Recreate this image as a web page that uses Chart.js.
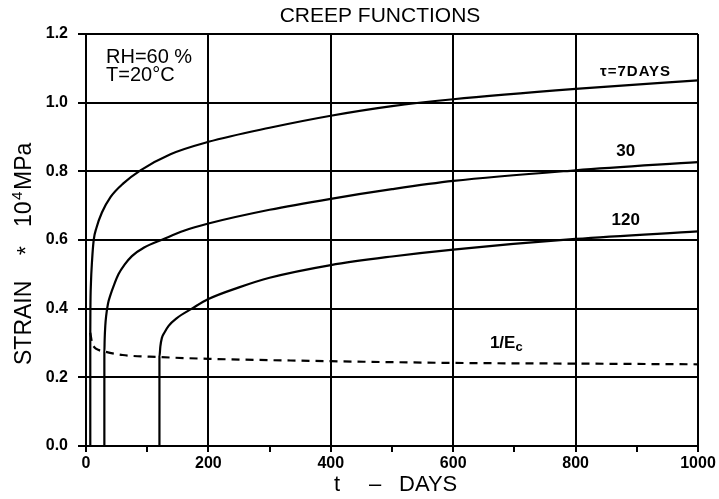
<!DOCTYPE html>
<html>
<head>
<meta charset="utf-8">
<title>Creep functions</title>
<script src="https://cdn.jsdelivr.net/npm/chart.js@4.4.1/dist/chart.umd.min.js"></script>
<style>
  html, body { margin: 0; padding: 0; background: #fff; }
  #chart { display: block; }
</style>
</head>
<body>
<canvas id="chart" width="719" height="499"></canvas>
<script>
"use strict";

// values: t in days, strain * 10^4 MPa
const days7 = [7, 7, 7.2, 8, 9.9, 12.6, 17, 26, 40, 61, 89, 138, 200, 300, 400, 500, 600, 800, 1000];
const strain7 = [0, 0.33, 0.40, 0.47, 0.54, 0.60, 0.635, 0.68, 0.725, 0.765, 0.803, 0.85, 0.886, 0.927, 0.962, 0.99, 1.01, 1.04, 1.065];

const days30 = [30, 30, 30.5, 31.5, 33, 36, 40, 46, 53, 63, 75, 95, 127, 160, 200, 300, 400, 500, 600, 800, 1000];
const strain30 = [0, 0.272, 0.31, 0.35, 0.38, 0.415, 0.44, 0.47, 0.50, 0.528, 0.553, 0.578, 0.603, 0.627, 0.648, 0.688, 0.72, 0.748, 0.772, 0.803, 0.827];

const days120 = [120, 120, 121.5, 124, 128, 135, 148, 173, 200, 250, 300, 400, 500, 600, 800, 1000];
const strain120 = [0, 0.26, 0.29, 0.315, 0.33, 0.35, 0.372, 0.40, 0.428, 0.462, 0.49, 0.527, 0.552, 0.572, 0.603, 0.625];

const daysEc = [7, 10, 14, 20, 30, 60, 120, 200, 400, 600, 800, 1000];
const strainEc = [0.33, 0.30, 0.287, 0.28, 0.275, 0.265, 0.259, 0.254, 0.247, 0.242, 0.24, 0.238];

const xTicks = [0, 200, 400, 600, 800, 1000];
const yTicks = [0, 0.2, 0.4, 0.6, 0.8, 1.0, 1.2];

const FONT = '"Liberation Sans", Arial, Helvetica, sans-serif';

function points(xs, ys) {
  return xs.map((x, i) => ({ x: x, y: ys[i] }));
}

function curve(xs, ys, dashed) {
  return {
    data: points(xs, ys),
    borderColor: "#000",
    borderWidth: 2.2,
    borderDash: dashed ? [8, 6] : [],
    pointRadius: 0,
    fill: false,
    cubicInterpolationMode: "monotone"
  };
}

// titles and curve labels
const annotate = {
  id: "annotate",
  afterDraw(chart) {
    const ctx = chart.ctx;
    const x = chart.scales.x;
    const y = chart.scales.y;
    ctx.save();
    ctx.fillStyle = "#000";
    ctx.textBaseline = "middle";

    ctx.textAlign = "center";
    ctx.font = "21px " + FONT;
    ctx.fillText("CREEP FUNCTIONS", 380, 16);

    ctx.textAlign = "left";
    ctx.font = "20px " + FONT;
    ctx.fillText("RH=60 %", 106, 57);
    ctx.fillText("T=20\u00B0C", 106, 75);

    ctx.textAlign = "center";
    ctx.font = "bold 15px " + FONT;
    ctx.letterSpacing = "1px";
    ctx.fillText("\u03C4=7DAYS", x.getPixelForValue(898), y.getPixelForValue(1.09));
    ctx.letterSpacing = "0px";
    ctx.font = "bold 17px " + FONT;
    ctx.fillText("30", x.getPixelForValue(882), y.getPixelForValue(0.857));
    ctx.fillText("120", x.getPixelForValue(882), y.getPixelForValue(0.657));

    // 1/Ec with subscript
    ctx.textAlign = "left";
    ctx.font = "bold 17px " + FONT;
    const ex = x.getPixelForValue(660);
    const ey = y.getPixelForValue(0.3);
    ctx.fillText("1/E", ex, ey);
    const w = ctx.measureText("1/E").width;
    ctx.font = "bold 13px " + FONT;
    ctx.fillText("c", ex + w, ey + 4);

    // x axis title
    ctx.font = "22px " + FONT;
    ctx.textAlign = "center";
    ctx.fillText("t", 337, 485);
    ctx.fillText("\u2013", 375, 485);
    ctx.textAlign = "left";
    ctx.fillText("DAYS", 399, 485);

    // y axis title, rotated
    ctx.translate(25, 365);
    ctx.rotate(-Math.PI / 2);
    ctx.font = "23px " + FONT;
    ctx.fillText("STRAIN", 0, 0);
    ctx.fillText("*", 110, 3);
    ctx.fillText("10", 138, 0);
    ctx.font = "15px " + FONT;
    ctx.fillText("4", 165, -7);
    ctx.font = "23px " + FONT;
    ctx.fillText("MPa", 175, 0);
    ctx.restore();
  }
};

new Chart(document.getElementById("chart"), {
  type: "line",
  data: {
    datasets: [
      curve(days7, strain7, false),
      curve(days30, strain30, false),
      curve(days120, strain120, false),
      curve(daysEc, strainEc, true)
    ]
  },
  options: {
    responsive: false,
    animation: false,
    layout: { padding: { left: 0, right: 21, top: 34, bottom: 0 } },
    plugins: { legend: { display: false }, tooltip: { enabled: false }, title: { display: false } },
    scales: {
      x: {
        type: "linear",
        min: 0,
        max: 1000,
        afterFit: (scale) => { scale.height = 53; },
        border: { display: true, color: "#000", width: 2 },
        grid: {
          color: (c) => (xTicks.includes(c.tick.value) ? "#000" : "rgba(0,0,0,0)"),
          tickColor: "#000",
          lineWidth: 2,
          tickLength: 6
        },
        ticks: {
          stepSize: 100,
          autoSkip: false,
          maxRotation: 0,
          padding: 2,
          color: "#000",
          font: { family: FONT, size: 16, weight: "bold" },
          callback: (v) => (xTicks.includes(v) ? String(v) : "")
        }
      },
      y: {
        min: 0,
        max: 1.2,
        afterFit: (scale) => { scale.width = 86; },
        border: { display: true, color: "#000", width: 2 },
        grid: { color: "#000", tickColor: "#000", lineWidth: 2, tickLength: 8 },
        ticks: {
          stepSize: 0.2,
          padding: 10,
          color: "#000",
          font: { family: FONT, size: 16, weight: "bold" },
          callback: (v) => (yTicks.some((t) => Math.abs(t - v) < 1e-6) ? v.toFixed(1) : "")
        }
      }
    }
  },
  plugins: [annotate]
});
</script>
</body>
</html>
